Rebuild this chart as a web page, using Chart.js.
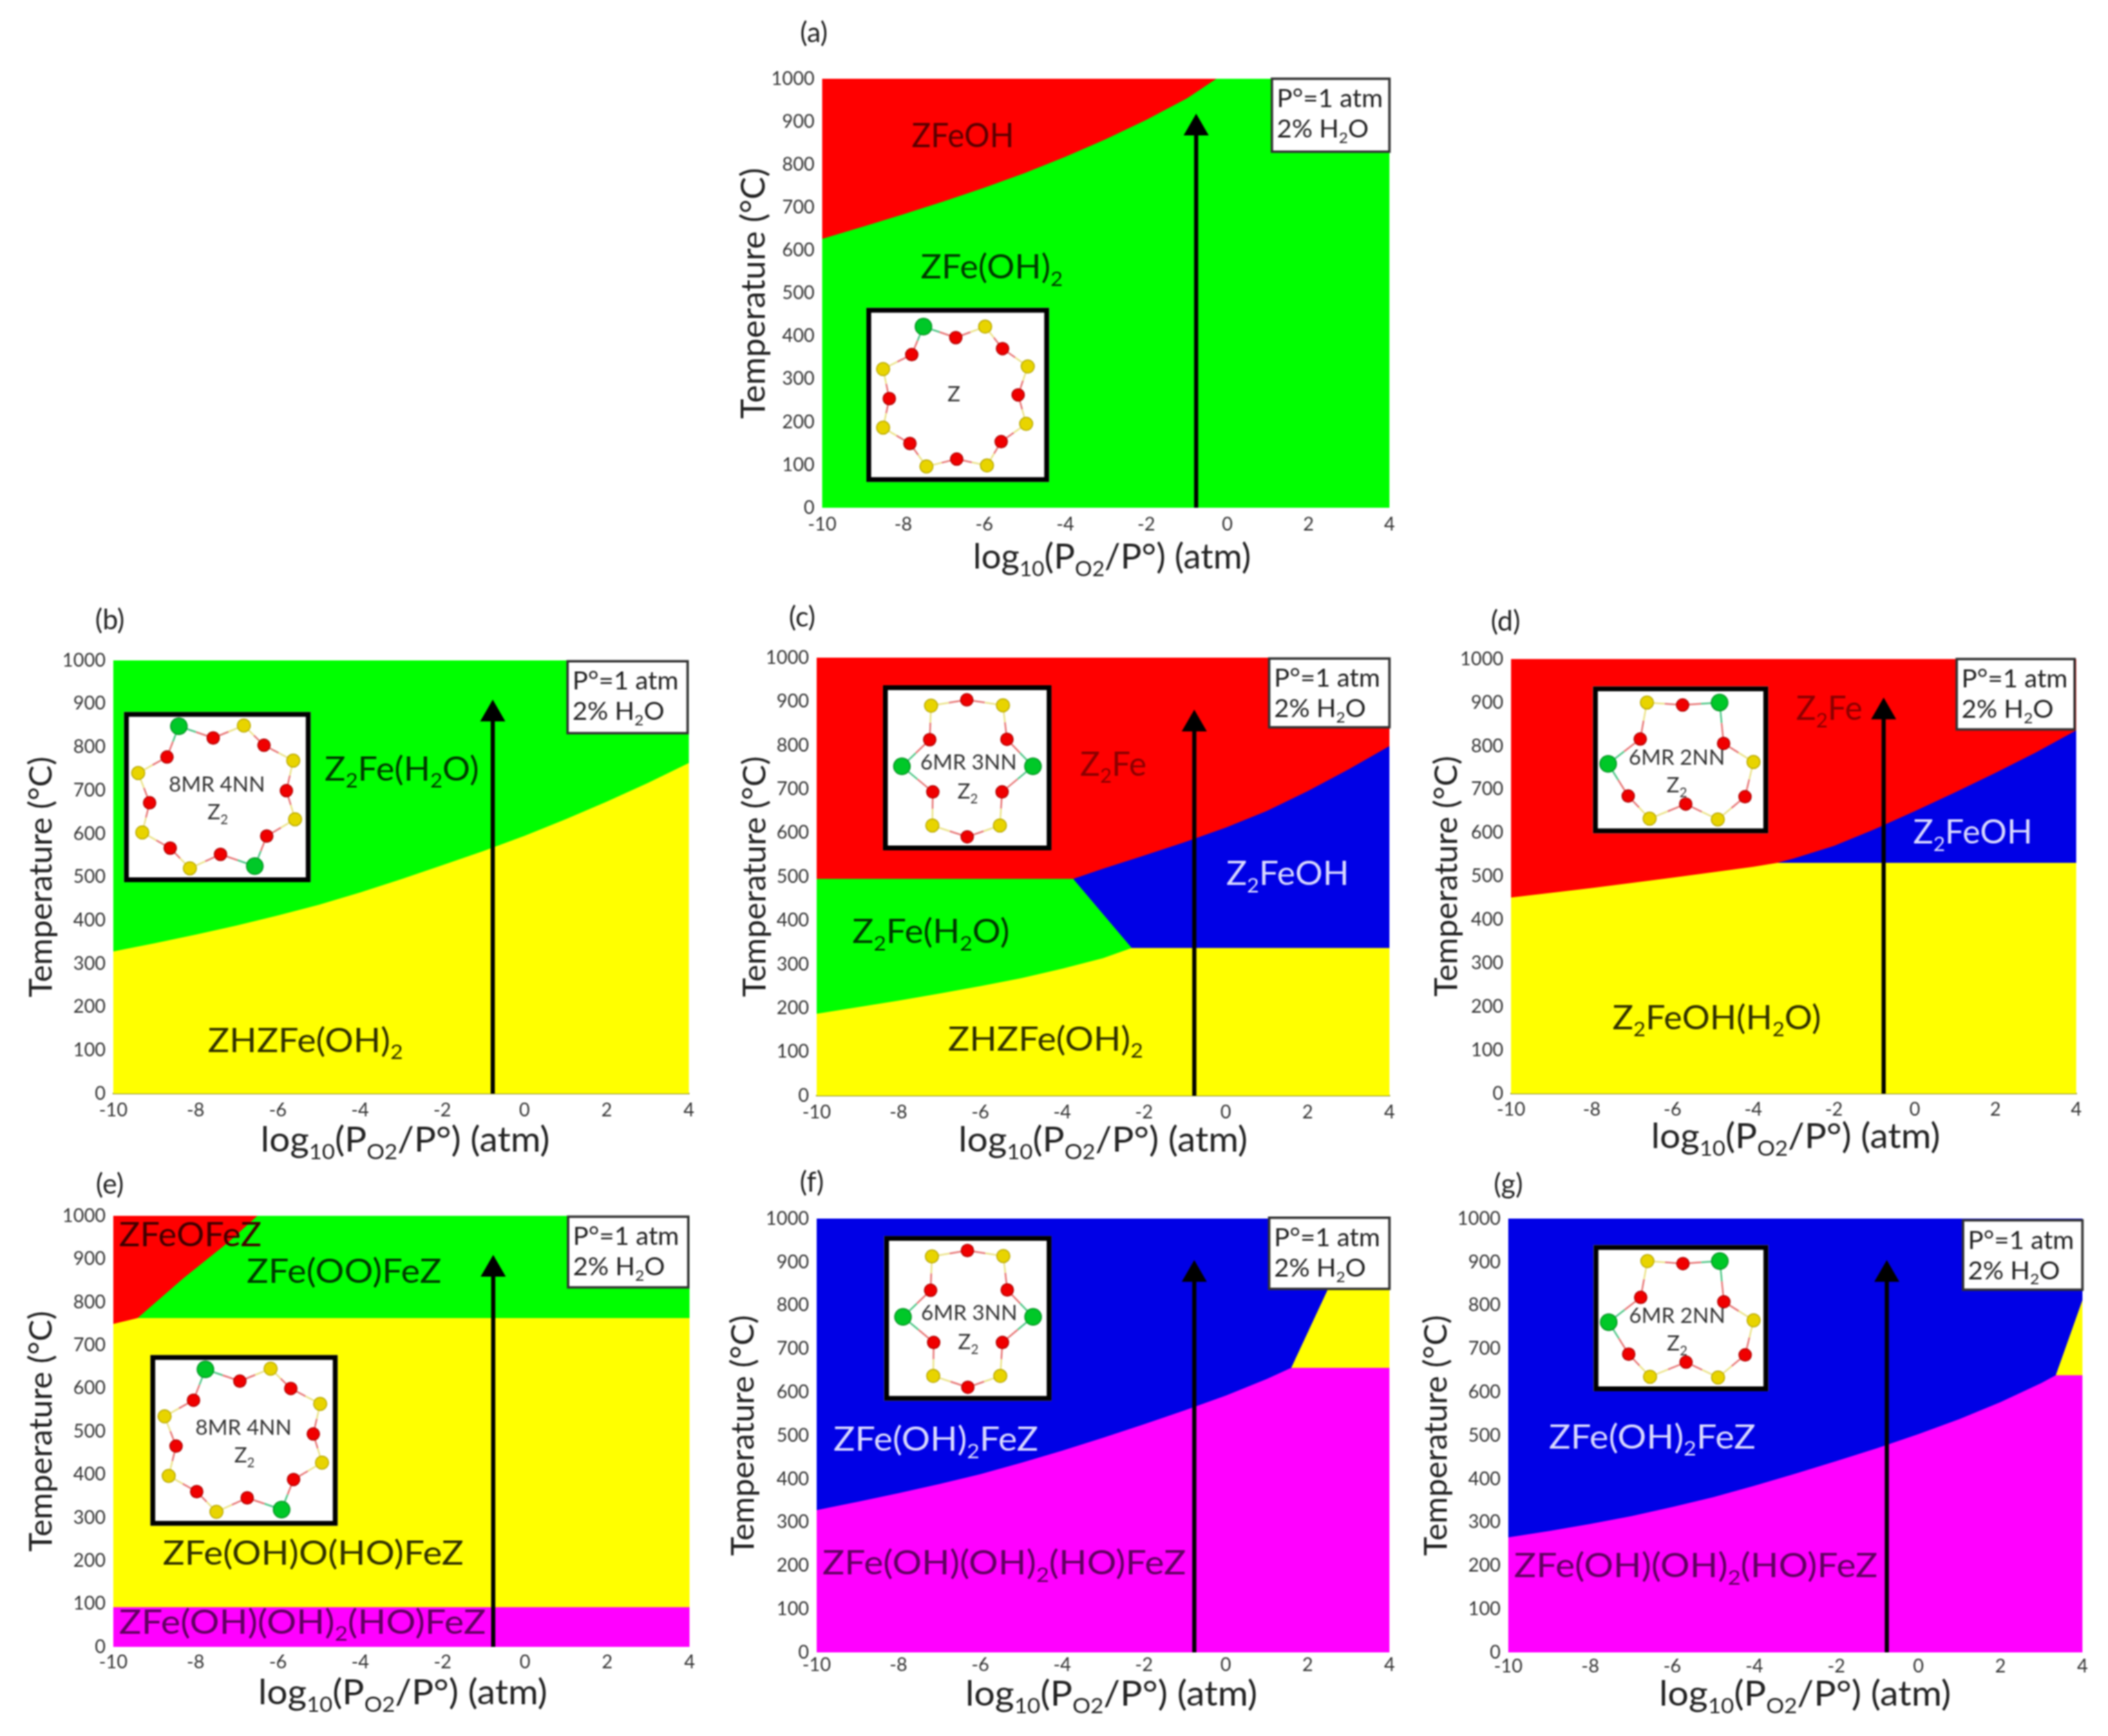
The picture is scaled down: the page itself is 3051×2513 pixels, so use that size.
<!DOCTYPE html>
<html>
<head>
<meta charset="utf-8">
<title>Phase diagrams</title>
<script src="https://cdn.jsdelivr.net/npm/chart.js@4"></script>
<style>
html, body { margin: 0; padding: 0; background: #fff; }
#page { position: relative; width: 3051px; height: 2513px; overflow: hidden; }
canvas { position: absolute; filter: blur(0.8px); }
</style>
</head>
<body>
<div id="page"></div>
<script>
const RED = '#ff0000', GREEN = '#00ff00', BLUE = '#0000e6', YELLOW = '#ffff00', PINK = '#ff00ff';
const FONT = 'Lato, "Open Sans", sans-serif';

const xTicks = [-10, -8, -6, -4, -2, 0, 2, 4];
const tTicks = [0, 100, 200, 300, 400, 500, 600, 700, 800, 900, 1000];
const fullX = [-10, 4];
const fullT = [1000, 1000];
const arrowX = -0.77;

// (a)
const aGreenX = [-10, -9, -8, -7, -6, -5, -4, -3, -2, -1, -0.27, 4];
const aGreenT = [627, 655, 684, 714, 746, 780, 818, 859, 904, 954, 1000, 1000];
// (b)
const bYellowX = [-10, -9, -8, -7, -6, -5, -4, -3, -2, -1, 0, 1, 2, 3, 4];
const bYellowT = [328, 347, 367, 388, 411, 436, 464, 495, 527, 560, 595, 633, 674, 717, 763];
// (c)
const cBlueX = [-3.73, -3, -2, -1, 0, 1, 2, 3, 4];
const cBlueT = [495, 518, 548, 579, 612, 650, 695, 745, 798];
const cGreenX = [-10, -3.73, -2.3];
const cGreenT = [495, 495, 337];
const cYellowX = [-10, -9, -8, -7, -6, -5, -4, -3, -2.3, 4];
const cYellowT = [187, 202, 217, 233, 250, 268, 290, 314, 337, 337];
// (d)
const dBlueX = [-3.4, -3, -2, -1, 0, 1, 2, 3, 4];
const dBlueT = [531, 541, 570, 608, 650, 693, 738, 785, 836];
const dYellowX = [-10, -8, -6, -4, -3.4, 4];
const dYellowT = [451, 473, 497, 522, 531, 531];
// (e)
const eGreenX = [-9.41, -8.3, -7.19, -6.5, 4];
const eGreenT = [763, 855, 940, 1000, 1000];
const eYellowX = [-10, -9.41, 4];
const eYellowT = [749, 763, 763];
const ePinkX = [-10, 4];
const ePinkT = [92, 92];
// (f)
const fYellowX = [1.6, 2.5, 3.3, 4];
const fYellowT = [656, 838, 1000, 1000];
const fPinkX = [-10, -9, -8, -7, -6, -5, -4, -3, -2, -1, 0, 1, 1.6, 4];
const fPinkT = [328, 347, 367, 388, 411, 437, 465, 495, 526, 558, 592, 630, 656, 656];
// (g)
const gYellowX = [3.35, 4];
const gYellowT = [639, 812];
const gPinkX = [-10, -9, -8, -7, -6, -5, -4, -3, -2, -1, 0, 1, 2, 3, 3.35, 4];
const gPinkT = [265, 280, 296, 314, 335, 358, 384, 412, 441, 471, 503, 538, 577, 621, 639, 639];

// zeolite rings for the insets, read in crop pixels relative to their box
const ringZ = {
    box: [68, 40, 865, 800], kinds: 'GRYRYRYRYRYRYRYR',
    xs: [317, 458, 586, 662, 772, 730, 765, 656, 594, 462, 330, 258, 141, 168, 141, 266],
    ys: [122, 170, 122, 218, 296, 420, 546, 624, 728, 700, 732, 632, 563, 436, 307, 244],
    notes: [['Z', 450, 415]]
};
const ring8 = {
    box: [270, 323, 678, 788], kinds: 'GRYRYRYRGRYRYRYR',
    xs: [390, 465, 532, 576, 640, 625, 644, 582, 556, 481, 414, 371, 310, 326, 301, 364],
    ys: [362, 394, 360, 414, 456, 538, 616, 662, 744, 712, 750, 695, 652, 571, 490, 446],
    notes: [['8MR 4NN', 473, 520], ['Z_2', 475, 595]]
};
const ring6a = {
    box: [373, 248, 755, 700], kinds: 'YRYRGRYRYRGR',
    xs: [482, 563, 645, 654, 713, 643, 638, 564, 485, 486, 416, 479],
    ys: [304, 288, 303, 396, 470, 540, 632, 663, 632, 540, 470, 397],
    notes: [['6MR 3NN', 567, 458], ['Z_2', 565, 538]]
};
const ring6b = {
    box: [412, 252, 805, 654], kinds: 'YRGRYRYRYRGR',
    xs: [533, 613, 696, 705, 772, 753, 692, 620, 539, 491, 446, 518],
    ys: [296, 303, 296, 408, 459, 554, 616, 574, 614, 552, 464, 396],
    notes: [['6MR 3NN', 600, 446], ['Z_2', 600, 522]]
};
ring6b.notes[0][0] = '6MR 2NN';

// labels: text, left x, baseline temperature, colour, horizontal stretch
const panels = [
    { letter: '(a)', plot: [1190, 114, 2011, 735], letterAt: [-12, -66], yTitlePad: 12, yTitleSize: 49, xTitleAt: [9, 88], xTitleK: 1, xTickPad: 8, axisLine: false,
      regions: [[RED, fullX, fullT], [GREEN, aGreenX, aGreenT]], arrowT: 885,
      box: [1.1, 4, 1000, 830], inset: [ringZ, -8.91, -4.4, 466, 60],
      labels: [['ZFeOH', -7.79, 841, '#5a0000', 0.96], ['ZFe(OH)_2', -7.57, 534, '#003800', 1.05]] },
    { letter: '(b)', plot: [164, 956, 997, 1583], letterAt: [-5, -58], yTitlePad: 8, yTitleSize: 47, xTitleAt: [6, 84], xTitleK: 1.04, xTickPad: 8, axisLine: true,
      regions: [[GREEN, fullX, fullT], [YELLOW, bYellowX, bYellowT]], arrowT: 876,
      box: [1.05, 3.97, 998, 832], inset: [ring8, -9.74, -5.2, 881, 488],
      labels: [['Z_2Fe(H_2O)', -4.86, 723, '#003800', 1.05], ['ZHZFe(OH)_2', -7.7, 96, '#303000', 1.08]] },
    { letter: '(c)', plot: [1182, 952, 2011, 1586], letterAt: [-21, -58], yTitlePad: 23, yTitleSize: 47, xTitleAt: [0, 81], xTitleK: 1.04, xTickPad: 8, axisLine: true,
      regions: [[RED, fullX, fullT], [BLUE, cBlueX, cBlueT], [GREEN, cGreenX, cGreenT], [YELLOW, cYellowX, cYellowT]], arrowT: 848,
      box: [1.06, 4, 998, 841], inset: [ring6a, -8.38, -4.26, 937, 560],
      labels: [['Z_2Fe', -3.56, 731, '#8a0000', 1], ['Z_2FeOH', 0.01, 481, '#d8d8ff', 1.04], ['Z_2Fe(H_2O)', -9.13, 348, '#003800', 1.07], ['ZHZFe(OH)_2', -6.79, 103, '#303000', 1.08]] },
    { letter: '(d)', plot: [2187, 954, 3005, 1583], letterAt: [-8, -54], yTitlePad: 19, yTitleSize: 47, xTitleAt: [3, 79], xTitleK: 1.04, xTickPad: 7, axisLine: true,
      regions: [[RED, fullX, fullT], [BLUE, dBlueX, dBlueT], [YELLOW, dYellowX, dYellowT]], arrowT: 878,
      box: [1.04, 3.96, 1000, 838], inset: [ring6b, -7.97, -3.63, 937, 599],
      labels: [['Z_2Fe', -2.94, 860, '#8a0000', 1], ['Z_2FeOH', -0.04, 575, '#d8d8ff', 1.01], ['Z_2FeOH(H_2O)', -7.49, 148, '#303000', 1.05]] },
    { letter: '(e)', plot: [164, 1760, 998, 2384], letterAt: [-5, -45], yTitlePad: 8, yTitleSize: 47, xTitleAt: [2, 83], xTitleK: 1.04, xTickPad: 6, axisLine: false,
      regions: [[RED, fullX, fullT], [GREEN, eGreenX, eGreenT], [YELLOW, eYellowX, eYellowT], [PINK, ePinkX, ePinkT]], arrowT: 876,
      box: [1.05, 3.97, 998, 834], inset: [ring8, -9.1, -4.55, 677, 281],
      labels: [['ZFeOFeZ', -9.86, 930, '#400000', 1.05], ['ZFe(OO)FeZ', -6.76, 845, '#003800', 1.09], ['ZFe(OH)O(HO)FeZ', -8.8, 191, '#303000', 1.1], ['ZFe(OH)(OH)_2(HO)FeZ', -9.86, 31, '#600060', 1.12]] },
    { letter: '(f)', plot: [1182, 1764, 2011, 2392], letterAt: [-7, -52], yTitlePad: 6, yTitleSize: 47, xTitleAt: [12, 77], xTitleK: 1.05, xTickPad: 2, axisLine: false,
      regions: [[BLUE, fullX, fullT], [YELLOW, fYellowX, fYellowT], [PINK, fPinkX, fPinkT]], arrowT: 871,
      box: [1.06, 4, 1002, 838], inset: [ring6a, -8.35, -4.26, 960, 580],
      labels: [['ZFe(OH)_2FeZ', -9.59, 465, '#d8d8ff', 1.08], ['ZFe(OH)(OH)_2(HO)FeZ', -9.86, 180, '#600060', 1.11]] },
    { letter: '(g)', plot: [2183, 1764, 3014, 2392], letterAt: [0, -49], yTitlePad: 8, yTitleSize: 47, xTitleAt: [14, 77], xTitleK: 1.05, xTickPad: 4, axisLine: false,
      regions: [[BLUE, fullX, fullT], [YELLOW, gYellowX, gYellowT], [PINK, gPinkX, gPinkT]], arrowT: 871,
      box: [1.09, 4, 996, 836], inset: [ring6b, -7.92, -3.66, 939, 602],
      labels: [['ZFe(OH)_2FeZ', -9.01, 470, '#d8d8ff', 1.09], ['ZFe(OH)(OH)_2(HO)FeZ', -9.86, 173, '#600060', 1.11]] }
];

const MARGIN = { left: 140, right: 30, top: 90, bottom: 105 };
const atomStyle = {
    R: { fill: '#f00000', edge: '#b00000', bond: '#e87878', r: 9 },
    Y: { fill: '#e8d400', edge: '#b8a800', bond: '#ece48c', r: 9.5 },
    G: { fill: '#00c828', edge: '#009020', bond: '#50c888', r: 12 }
};

// "Z_2" and "_{O2}" style markup, split into plain and subscript runs
function splitRuns(text) {
    const runs = [];
    const re = /_\{([^}]*)\}|_(.)/g;
    let last = 0, m;
    while ((m = re.exec(text))) {
        if (m.index > last) runs.push([text.slice(last, m.index), false]);
        runs.push([m[1] || m[2], true]);
        last = re.lastIndex;
    }
    if (last < text.length) runs.push([text.slice(last), false]);
    return runs;
}

function drawRich(ctx, text, x, y, size, color, centered, stretch) {
    const k = stretch || 1;
    const runs = splitRuns(text);
    ctx.fillStyle = color;
    ctx.textBaseline = 'alphabetic';
    ctx.textAlign = 'left';
    const fontFor = sub => (sub ? Math.round(size * 0.6) : size) + 'px ' + FONT;
    let w = 0;
    if (centered) {
        runs.forEach(([t, sub]) => { ctx.font = fontFor(sub); w += ctx.measureText(t).width; });
    }
    ctx.save();
    ctx.translate(x - w * k / 2, y);
    ctx.scale(k, 1);
    let pos = 0;
    runs.forEach(([t, sub]) => {
        ctx.font = fontFor(sub);
        ctx.fillText(t, pos, sub ? size * 0.22 : 0);
        pos += ctx.measureText(t).width;
    });
    ctx.restore();
}

function drawInset(ctx, chart, inset) {
    const [ring, x0, x1, t0, t1] = inset;
    const sx = chart.scales.x, sy = chart.scales.y;
    const l = sx.getPixelForValue(x0), r = sx.getPixelForValue(x1);
    const t = sy.getPixelForValue(t0), b = sy.getPixelForValue(t1);
    ctx.fillStyle = '#fff';
    ctx.fillRect(l, t, r - l, b - t);
    ctx.strokeStyle = '#000';
    ctx.lineWidth = 7;
    ctx.strokeRect(l + 3.5, t + 3.5, r - l - 7, b - t - 7);

    const [bl, bt, br, bb] = ring.box;
    const px = v => l + (v - bl) / (br - bl) * (r - l);
    const py = v => t + (v - bt) / (bb - bt) * (b - t);
    const n = ring.xs.length;
    ctx.lineWidth = 2.5;
    for (let i = 0; i < n; i++) {
        const j = (i + 1) % n;
        const ax = px(ring.xs[i]), ay = py(ring.ys[i]), cx = px(ring.xs[j]), cy = py(ring.ys[j]);
        const mx = (ax + cx) / 2, my = (ay + cy) / 2;
        ctx.strokeStyle = atomStyle[ring.kinds[i]].bond;
        ctx.beginPath(); ctx.moveTo(ax, ay); ctx.lineTo(mx, my); ctx.stroke();
        ctx.strokeStyle = atomStyle[ring.kinds[j]].bond;
        ctx.beginPath(); ctx.moveTo(mx, my); ctx.lineTo(cx, cy); ctx.stroke();
    }
    for (let i = 0; i < n; i++) {
        const st = atomStyle[ring.kinds[i]];
        ctx.beginPath();
        ctx.arc(px(ring.xs[i]), py(ring.ys[i]), st.r, 0, Math.PI * 2);
        ctx.fillStyle = st.fill;
        ctx.fill();
        ctx.strokeStyle = st.edge;
        ctx.lineWidth = 1.5;
        ctx.stroke();
    }
    ring.notes.forEach(([text, nx, ny]) => {
        drawRich(ctx, text, px(nx), py(ny) + 11, 31, '#333', true);
    });
}

function makeDecorate(p) {
    return {
        id: 'decorate',
        afterDatasetsDraw(chart) {
            const ctx = chart.ctx;
            const sx = chart.scales.x, sy = chart.scales.y;
            const area = chart.chartArea;
            ctx.save();

            p.labels.forEach(([text, x, t, color, k]) => {
                drawRich(ctx, text, sx.getPixelForValue(x), sy.getPixelForValue(t), 48, color, false, k);
            });

            // conditions box
            const [x0, x1, t0, t1] = p.box;
            const bl = sx.getPixelForValue(x0), br = sx.getPixelForValue(x1);
            const bt = sy.getPixelForValue(t0), bb = sy.getPixelForValue(t1);
            ctx.fillStyle = '#fff';
            ctx.fillRect(bl, bt, br - bl, bb - bt);
            ctx.strokeStyle = '#333';
            ctx.lineWidth = 3.5;
            ctx.strokeRect(bl, bt, br - bl, bb - bt);
            drawRich(ctx, 'P°=1 atm', bl + 7, bt + 41, 36, '#222', false, 1.04);
            drawRich(ctx, '2% H_2O', bl + 7, bt + 85, 36, '#222', false, 1.04);

            drawInset(ctx, chart, p.inset);

            drawRich(ctx, p.letter, area.left + p.letterAt[0], area.top + p.letterAt[1] + 13, 40, '#222', true);
            drawRich(ctx, 'log_{10}(P_{O2}/P°) (atm)', (area.left + area.right) / 2 + p.xTitleAt[0],
                area.bottom + p.xTitleAt[1], 51, '#222', true, p.xTitleK);
            ctx.restore();
        }
    };
}

function makeDatasets(p) {
    const sets = p.regions.map(([color, xs, ts], i) => ({
        data: xs.map((x, k) => ({ x: x, y: ts[k] })),
        backgroundColor: color,
        borderWidth: 0,
        pointRadius: 0,
        fill: 'start',
        tension: 0,
        order: 100 - i
    }));
    sets.push({
        data: [{ x: arrowX, y: 0 }, { x: arrowX, y: p.arrowT }],
        borderColor: '#000',
        backgroundColor: '#000',
        borderWidth: 6,
        pointStyle: 'triangle',
        pointRadius: [0, 21],
        pointBorderWidth: 0,
        fill: false,
        order: 0
    });
    return sets;
}

function makePanel(p) {
    const [l, t, r, b] = p.plot;
    const canvas = document.createElement('canvas');
    const w = r - l + MARGIN.left + MARGIN.right;
    const h = b - t + MARGIN.top + MARGIN.bottom;
    canvas.width = w;
    canvas.height = h;
    canvas.style.left = (l - MARGIN.left) + 'px';
    canvas.style.top = (t - MARGIN.top) + 'px';
    canvas.style.width = w + 'px';
    canvas.style.height = h + 'px';
    document.getElementById('page').appendChild(canvas);

    new Chart(canvas, {
        type: 'line',
        data: { datasets: makeDatasets(p) },
        plugins: [makeDecorate(p)],
        options: {
            responsive: false,
            animation: false,
            devicePixelRatio: 1,
            layout: { padding: { top: MARGIN.top, right: MARGIN.right, left: 0, bottom: 0 } },
            plugins: {
                legend: { display: false },
                tooltip: { enabled: false }
            },
            scales: {
                x: {
                    type: 'linear',
                    min: -10,
                    max: 4,
                    grid: { display: false, drawTicks: false },
                    border: p.axisLine ? { display: true, color: '#85852a', width: 2 } : { display: false },
                    afterBuildTicks: s => { s.ticks = xTicks.map(v => ({ value: v })); },
                    afterFit: s => {
                        s.height = MARGIN.bottom;
                        s.paddingLeft = s.paddingRight = 0;
                    },
                    ticks: { color: '#333', padding: p.xTickPad, maxRotation: 0, autoSkip: false, font: { family: FONT, size: 27 }, callback: v => String(v) }
                },
                y: {
                    type: 'linear',
                    min: 0,
                    max: 1000,
                    grid: { display: false, drawTicks: false },
                    border: { display: false },
                    afterBuildTicks: s => { s.ticks = tTicks.map(v => ({ value: v })); },
                    afterFit: s => {
                        s.width = MARGIN.left;
                        s.paddingTop = s.paddingBottom = 0;
                    },
                    title: {
                        display: true,
                        text: 'Temperature (°C)',
                        color: '#222',
                        font: { family: FONT, size: p.yTitleSize },
                        padding: { top: p.yTitlePad, bottom: 0 }
                    },
                    ticks: { color: '#333', padding: 11, autoSkip: false, font: { family: FONT, size: 27 }, callback: v => String(v) }
                }
            }
        }
    });
}

panels.forEach(makePanel);
</script>
</body>
</html>
